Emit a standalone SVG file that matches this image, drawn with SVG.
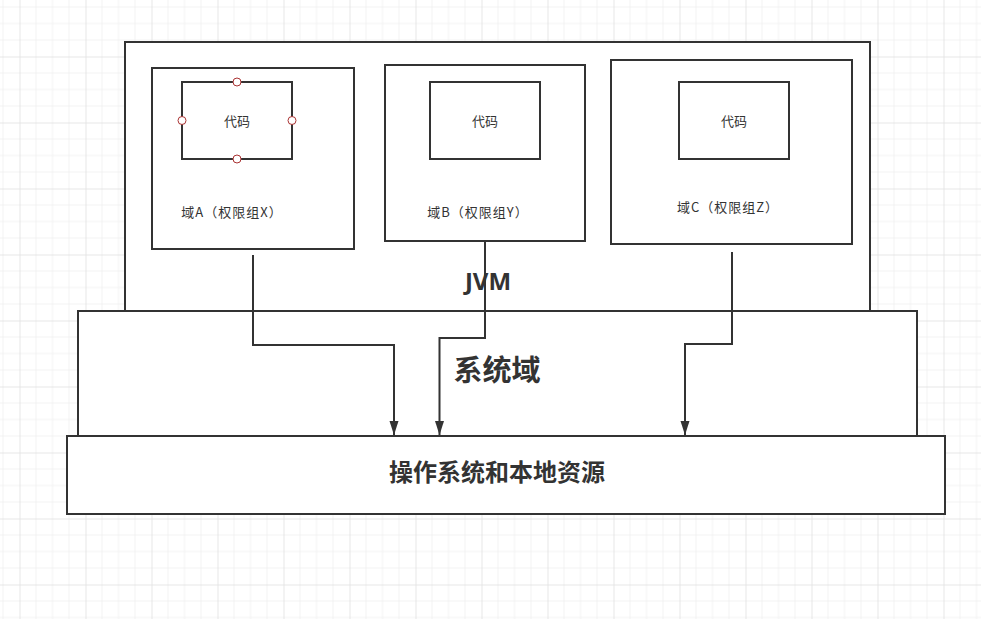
<svg xmlns="http://www.w3.org/2000/svg" width="981" height="619" viewBox="0 0 981 619">
<defs>
<pattern id="grid" x="19.5" y="56.5" width="66" height="66" patternUnits="userSpaceOnUse">
<path d="M16.5 0V66M33 0V66M49.5 0V66M0 16.5H66M0 33H66M0 49.5H66" stroke="#f2f2f2" stroke-width="1" fill="none"/>
<path d="M0.5 0V66M0 0.5H66" stroke="#e6e6e6" stroke-width="1" fill="none"/>
</pattern>
<marker id="arr" markerUnits="userSpaceOnUse" markerWidth="16" markerHeight="10" viewBox="0 0 16 10" refX="15" refY="5" orient="auto">
<path d="M1 0.5L15 5L1 9.5Z" fill="#333"/>
</marker>
<style>
.box{fill:#fff;stroke:#333;stroke-width:2}
.t{font-family:"Noto Sans CJK SC","Noto Sans",sans-serif;fill:#333;text-anchor:middle}
.s{font-size:13px}
.l{letter-spacing:1px}
.b{font-weight:bold}
.pt{fill:#fff;stroke:#a33;stroke-width:1}
.c{fill:none;stroke:#333;stroke-width:2}
</style>
</defs>
<rect width="981" height="619" fill="#fff"/>
<rect width="981" height="619" fill="url(#grid)"/>
<g id="jvm">
<rect class="box" x="125" y="42" width="745" height="269"/>
</g>
<g id="domainA">
<rect class="box" x="152" y="68" width="202" height="181"/>
<text class="t s l" x="232" y="217">域A（权限组X）</text>
</g>
<g id="codeA">
<rect class="box" x="182" y="82" width="110" height="77"/>
<text class="t s" x="237" y="126">代码</text>
<circle class="pt" cx="237" cy="82" r="4"/>
<circle class="pt" cx="182" cy="120.5" r="4"/>
<circle class="pt" cx="292" cy="120.5" r="4"/>
<circle class="pt" cx="237" cy="159" r="4"/>
</g>
<g id="domainB">
<rect class="box" x="385" y="65" width="200" height="176"/>
<text class="t s l" x="478" y="217">域B（权限组Y）</text>
</g>
<g id="codeB">
<rect class="box" x="430" y="82" width="110" height="77"/>
<text class="t s" x="485" y="126">代码</text>
</g>
<g id="domainC">
<rect class="box" x="611" y="60" width="241" height="184"/>
<text class="t s l" x="728" y="212">域C（权限组Z）</text>
</g>
<g id="codeC">
<rect class="box" x="679" y="82" width="110" height="77"/>
<text class="t s" x="734" y="126">代码</text>
</g>
<g id="system">
<rect class="box" x="78" y="311" width="839" height="125"/>
<text class="t b" x="497" y="381" font-size="29">系统域</text>
</g>
<g id="os">
<rect class="box" x="67" y="436" width="878" height="78"/>
<text class="t b" x="497" y="481" font-size="24">操作系统和本地资源</text>
</g>
<g id="jvmLabel">
<text class="t b" x="488" y="290" font-size="24" style="font-family:'Noto Sans','Open Sans',sans-serif">JVM</text>
</g>
<g id="connectors">
<path class="c" d="M253 255V345H394V435" marker-end="url(#arr)"/>
<path class="c" d="M485 241V338H439.5V435" marker-end="url(#arr)"/>
<path class="c" d="M732 252V344H685V435" marker-end="url(#arr)"/>
</g>
</svg>
